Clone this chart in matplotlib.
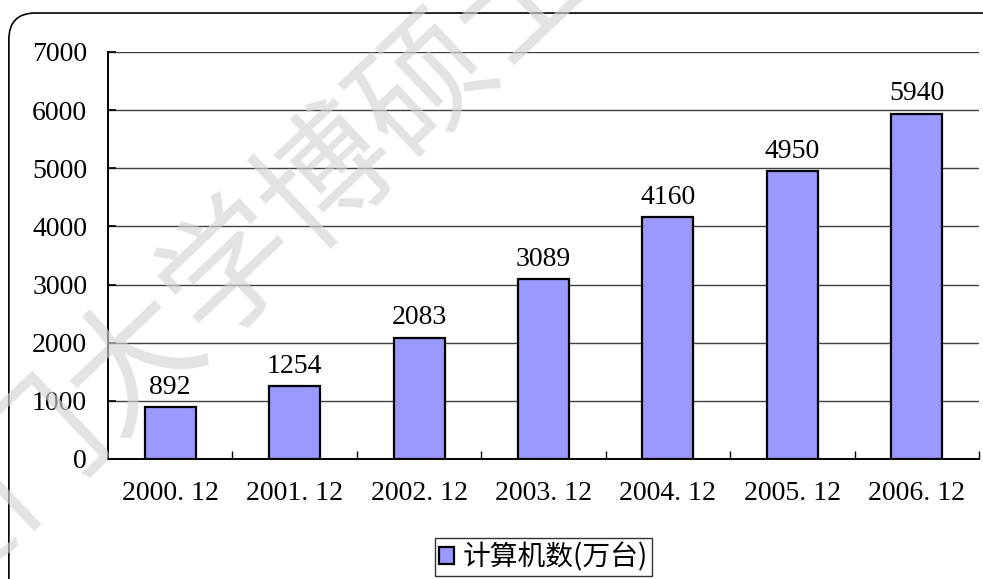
import matplotlib.pyplot as plt
from matplotlib.patches import FancyBboxPatch

categories = ['2000.12', '2001.12', '2002.12', '2003.12', '2004.12', '2005.12', '2006.12']
values = [892, 1254, 2083, 3089, 4160, 4950, 5940]
series_name = '计算机数(万台)'
y_ticks = [0, 1000, 2000, 3000, 4000, 5000, 6000, 7000]

serif = ['Liberation Serif', 'DejaVu Serif']
cjk = ['Noto Sans CJK SC', 'DejaVu Sans']

fig = plt.figure(figsize=(9.83, 5.79), dpi=100)
ax = fig.add_axes([0.1099, 0.2073, 0.886, 0.7029])

# rounded outer frame
frame = FancyBboxPatch((0.009, -0.05), 1.02, 1.0275, transform=fig.transFigure,
                       boxstyle='round,pad=0,rounding_size=0.027', fill=False,
                       edgecolor='black', linewidth=1.2, mutation_aspect=1.7)
fig.patches.append(frame)

x = range(len(categories))
bars = ax.bar(x, values, width=0.41, color='#9999FF', edgecolor='black',
              linewidth=1.6, label=series_name, zorder=3)
for xi, v in zip(x, values):
    ax.text(xi, v + 130, str(v), ha='center', va='bottom', fontsize=20,
            family=serif, zorder=4)

ax.set_xlim(-0.5, len(categories) - 0.5)
ax.set_ylim(0, 7000)
ax.set_yticks(y_ticks)
ax.set_yticklabels([str(t) for t in y_ticks], family=serif, fontsize=20)
ax.set_xticks(list(x))
ax.set_xticklabels([c.replace('.', '. ') for c in categories], family=serif, fontsize=20)
ax.set_xticks([i + 0.5 for i in range(len(categories))], minor=True)
ax.tick_params(axis='x', which='major', length=0, pad=16)
ax.tick_params(axis='x', which='minor', direction='in', length=6, width=1)
ax.tick_params(axis='y', direction='in', length=6, width=1.2, pad=15)
ax.yaxis.grid(True, color='#404040', linewidth=1)
ax.set_axisbelow(True)
for s in ['top', 'right']:
    ax.spines[s].set_visible(False)
for s in ['left', 'bottom']:
    ax.spines[s].set_linewidth(1.4)

leg = ax.legend(loc='center', bbox_to_anchor=(0.5, -0.241), prop={'family': cjk, 'size': 20},
                frameon=True, fancybox=False, edgecolor='black', handlelength=0.55,
                handleheight=0.55, handletextpad=0.3, borderpad=0.15, borderaxespad=0)
leg.get_frame().set_linewidth(1.0)

# faint watermark
fig.text(0.484, 0.927, '厦门大学博硕士论文摘要库', rotation=43.5, rotation_mode='anchor',
         ha='center', va='center', fontsize=96, family=cjk, color='#d4d4d4',
         alpha=0.65, zorder=10)

fig.savefig('out.png', dpi=100)
